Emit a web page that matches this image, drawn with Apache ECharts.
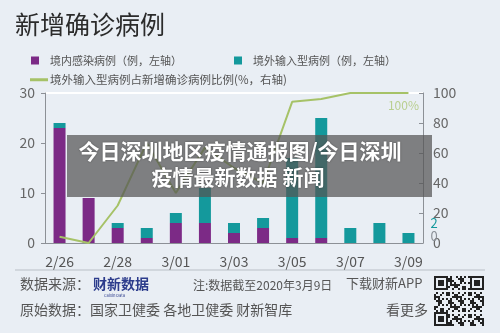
<!DOCTYPE html>
<html>
<head>
<meta charset="utf-8">
<script src="https://cdn.jsdelivr.net/npm/echarts@6/dist/echarts.min.js"></script>
<style>
html, body { margin: 0; padding: 0; background: #e9eef4; }
#chart { width: 500px; height: 333px; }
</style>
</head>
<body>
<div id="chart"></div>
<script>
// 数据
var categories = ['2/26', '2/27', '2/28', '2/29', '3/01', '3/02', '3/03', '3/04', '3/05', '3/06', '3/07', '3/08', '3/09'];
var localCases = [23, 9, 3, 1, 4, 4, 2, 3, 1, 1, 0, 0, 0];
var importedCases = [1, 0, 1, 2, 2, 7, 2, 2, 16, 24, 3, 4, 2];
var importedRatio = [4.2, 0, 25, 66.7, 33.3, 63.6, 50, 40, 94.1, 96, 100, 100, 100];
var leftTicks = [0, 10, 20, 30];
var rightTicks = [0, 20, 40, 60, 80, 100];

var FONT = '"Noto Sans CJK SC", "Noto Sans", sans-serif';
var PURPLE = '#7c2a86';
var TEAL = '#14999c';
var GREEN = '#a6c267';
var last = categories.length - 1;

var myChart = echarts.init(document.getElementById('chart'));

// 最后一个点带标签
function withLastLabel(arr, label) {
  return arr.map(function (v, i) {
    return i === last ? { value: v, label: label } : v;
  });
}

// 二维码（装饰）
function qrCode(x0, y0, n, s) {
  var cells = [];
  function finder(r, c) {
    return (r < 7 && c < 7) || (r < 7 && c >= n - 7) || (r >= n - 7 && c < 7);
  }
  function finderOn(r, c) {
    var rr = r >= n - 7 ? r - (n - 7) : r;
    var cc = c >= n - 7 ? c - (n - 7) : c;
    if (rr === 0 || rr === 6 || cc === 0 || cc === 6) return true;
    return rr >= 2 && rr <= 4 && cc >= 2 && cc <= 4;
  }
  for (var r = 0; r < n; r++) {
    for (var c = 0; c < n; c++) {
      var on;
      if (finder(r, c)) on = finderOn(r, c);
      else on = ((r * 31 + c * 17 + r * c * 7) % 11) < 5;
      if (on) {
        cells.push({
          type: 'rect', silent: true,
          shape: { x: x0 + c * s, y: y0 + r * s, width: s, height: s },
          style: { fill: '#222' }
        });
      }
    }
  }
  return cells;
}

var footerText = { fontFamily: FONT, fill: '#555' };
var bannerText = { align: 'center', verticalAlign: 'middle', fontFamily: FONT, fontSize: 21, fontWeight: 'bold', fill: '#fff', textShadowBlur: 2, textShadowColor: 'rgba(0,0,0,0.4)' };

var graphics = [
  // 标题
  { type: 'text', left: 15, top: 12, style: { text: '新增确诊病例', font: '25px ' + FONT, fill: '#2b2b2b' } },
  // 分隔线
  { type: 'line', shape: { x1: 15, y1: 270, x2: 485, y2: 270 }, style: { stroke: '#b9bfc6', lineWidth: 1 } },
  { type: 'text', left: 20, top: 277, style: Object.assign({ text: '数据来源：', fontSize: 14 }, footerText) },
  { type: 'text', left: 93, top: 277, style: { text: '财新数据', fontFamily: FONT, fontSize: 14, fontWeight: 'bold', fill: '#2c3c8c' } },
  { type: 'text', left: 104, top: 293, style: { text: 'Caixin Data', fontFamily: FONT, fontSize: 4, fill: '#2c3c8c' } },
  { type: 'text', left: 193, top: 279, style: Object.assign({ text: '注:数据截至2020年3月9日', fontSize: 12 }, footerText) },
  { type: 'text', left: 346, top: 277, style: Object.assign({ text: '下载财新APP', fontSize: 13 }, footerText) },
  { type: 'text', left: 20, top: 303, style: Object.assign({ text: '原始数据：国家卫健委 各地卫健委 财新智库', fontSize: 14 }, footerText) },
  { type: 'text', left: 386, top: 303, style: Object.assign({ text: '看更多', fontSize: 14 }, footerText) },
  // 遮罩横幅
  { type: 'rect', z: 100, shape: { x: 67, y: 135, width: 365, height: 62 }, style: { fill: 'rgba(85,85,85,0.72)' } },
  { type: 'text', z: 101, x: 240, y: 151, style: Object.assign({ text: '今日深圳地区疫情通报图/今日深圳' }, bannerText) },
  { type: 'text', z: 101, x: 238, y: 177, style: Object.assign({ text: '疫情最新数据 新闻' }, bannerText) }
].concat(qrCode(434, 276, 25, 2));

var option = {
  backgroundColor: '#e9eef4',
  animation: false,
  textStyle: { fontFamily: FONT },
  legend: [
    {
      left: 26, top: 50, itemWidth: 8, itemHeight: 8, icon: 'rect',
      data: ['境内感染病例（例，左轴）'],
      textStyle: { fontSize: 11, color: '#555', padding: [0, 0, 0, 6] }
    },
    {
      left: 229, top: 50, itemWidth: 8, itemHeight: 8, icon: 'rect',
      data: ['境外输入型病例（例，左轴）'],
      textStyle: { fontSize: 11, color: '#555', padding: [0, 0, 0, 6] }
    },
    {
      left: 25, top: 69, itemWidth: 18, itemHeight: 3, icon: 'rect',
      data: ['境外输入型病例占新增确诊病例比例(%，右轴)'],
      textStyle: { fontSize: 11.5, color: '#555', padding: [0, 0, 0, -3] }
    }
  ],
  grid: { left: 45, right: 77, top: 93, bottom: 90 },
  xAxis: {
    type: 'category',
    data: categories,
    axisLine: { lineStyle: { color: '#8c9096' } },
    axisTick: { interval: 1, length: 4, lineStyle: { color: '#8c9096' } },
    axisLabel: { interval: 1, fontSize: 14, color: '#555', margin: 12 }
  },
  yAxis: [
    {
      type: 'value',
      min: leftTicks[0], max: leftTicks[leftTicks.length - 1], interval: leftTicks[1] - leftTicks[0],
      axisLine: { show: true, lineStyle: { color: '#8c9096' } },
      axisTick: { show: true, length: 4, lineStyle: { color: '#8c9096' } },
      axisLabel: { fontSize: 14, color: '#666', margin: 10 },
      splitLine: { show: true, lineStyle: { color: ['transparent', 'transparent', 'transparent', '#ffffff'], width: 2 } }
    },
    {
      type: 'value',
      min: rightTicks[0], max: rightTicks[rightTicks.length - 1], interval: rightTicks[1] - rightTicks[0],
      axisLine: { show: true, lineStyle: { color: '#8c9096' } },
      axisTick: { show: true, inside: true, length: 4, lineStyle: { color: '#8c9096' } },
      axisLabel: { fontSize: 14, color: '#666', margin: 10 },
      splitLine: { show: false }
    }
  ],
  series: [
    {
      name: '境内感染病例（例，左轴）',
      type: 'bar',
      stack: 'cases',
      barWidth: 12,
      itemStyle: { color: PURPLE },
      data: localCases
    },
    {
      name: '境外输入型病例（例，左轴）',
      type: 'bar',
      stack: 'cases',
      barWidth: 12,
      itemStyle: { color: TEAL },
      data: withLastLabel(importedCases, {
        show: true, position: 'right', distance: 16, offset: [0, -8],
        formatter: function () {
          return '{t|' + importedCases[last] + '}\n{p|' + localCases[last] + '}';
        },
        rich: {
          t: { fontSize: 13, color: TEAL, lineHeight: 13 },
          p: { fontSize: 13, color: '#8a8f96', lineHeight: 13 }
        }
      })
    },
    {
      name: '境外输入型病例占新增确诊病例比例(%，右轴)',
      type: 'line',
      yAxisIndex: 1,
      symbol: 'circle',
      symbolSize: 0,
      showSymbol: true,
      z: 5,
      lineStyle: { color: GREEN, width: 2 },
      itemStyle: { color: GREEN },
      data: withLastLabel(importedRatio, {
        show: true, position: 'bottom', distance: 6, offset: [-5, 0],
        formatter: '{c}%', fontSize: 12, color: '#b9cf90'
      })
    }
  ],
  graphic: graphics
};

myChart.setOption(option);
</script>
</body>
</html>
